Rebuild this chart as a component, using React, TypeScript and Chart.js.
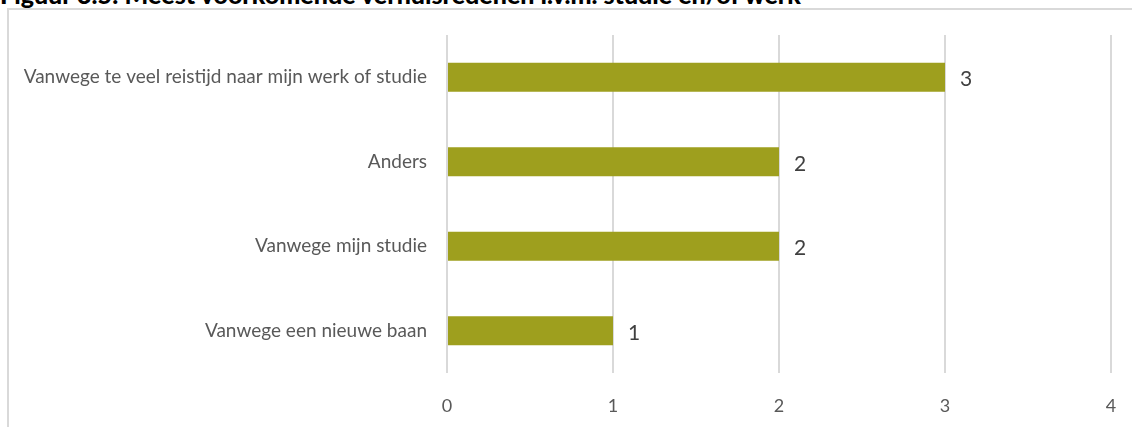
import React, { useEffect, useRef } from "react";
import { Chart, registerables } from "chart.js";

Chart.register(...registerables);

const title = "Figuur 3.5: Meest voorkomende verhuisredenen i.v.m. studie en/of werk";
const categories = [
  "Vanwege te veel reistijd naar mijn werk of studie",
  "Anders",
  "Vanwege mijn studie",
  "Vanwege een nieuwe baan",
];
const values = [3, 2, 2, 1];
const xMin = 0;
const xMax = 4;

const FONT = "Lato, 'Noto Sans', sans-serif";

const valueLabels = {
  id: "valueLabels",
  afterDatasetsDraw(chart: any) {
    const ctx = chart.ctx;
    const meta = chart.getDatasetMeta(0);
    ctx.save();
    ctx.fillStyle = "#404040";
    ctx.font = `21px ${FONT}`;
    ctx.textAlign = "left";
    ctx.textBaseline = "middle";
    meta.data.forEach((bar: any, i: number) => {
      ctx.fillText(String(chart.data.datasets[0].data[i]), bar.x + 15, bar.y + 2);
    });
    ctx.restore();
  },
};

export default function App() {
  const ref = useRef<HTMLCanvasElement>(null);
  useEffect(() => {
    if (!ref.current) return;
    const chart = new Chart(ref.current, {
      type: "bar",
      data: {
        labels: categories,
        datasets: [
          {
            data: values,
            backgroundColor: "#9E9F1E",
            borderWidth: 0,
            barPercentage: 0.69,
            categoryPercentage: 0.5,
          },
        ],
      },
      options: {
        indexAxis: "y",
        animation: false,
        responsive: false,
        maintainAspectRatio: false,
        layout: { padding: { top: 35, right: 21, left: 0, bottom: 0 } },
        plugins: { legend: { display: false }, tooltip: { enabled: false } },
        scales: {
          x: {
            min: xMin,
            max: xMax,
            border: { display: false },
            grid: {
              color: "#D9D9D9",
              lineWidth: 2,
              drawTicks: true,
              tickLength: 22,
              tickColor: "rgba(0,0,0,0)",
            },
            ticks: {
              stepSize: 1,
              padding: 0,
              color: "#595959",
              font: { family: FONT, size: 18 },
            },
            afterFit(scale: any) {
              scale.height = 54;
            },
          },
          y: {
            border: { display: false },
            grid: { display: false },
            ticks: {
              padding: 12,
              color: "#595959",
              font: { family: FONT, size: 19 },
            },
            afterFit(scale: any) {
              scale.width = 447;
            },
          },
        },
      },
      plugins: [valueLabels],
    });
    return () => chart.destroy();
  }, []);

  return (
    <div
      style={{
        position: "absolute",
        left: 0,
        top: 0,
        width: 1132,
        height: 427,
        overflow: "hidden",
        background: "#fff",
      }}
    >
      <div
        style={{
          position: "absolute",
          left: 0,
          top: -21,
          fontFamily: FONT,
          fontWeight: 900,
          fontSize: 25,
          whiteSpace: "nowrap",
          color: "#000",
        }}
      >
        {title}
      </div>
      <div
        style={{
          position: "absolute",
          left: 7,
          top: 8,
          width: 1200,
          height: 500,
          border: "2px solid #D9D9D9",
          boxSizing: "border-box",
        }}
      />
      <canvas
        ref={ref}
        width={1132}
        height={427}
        style={{ position: "absolute", left: 0, top: 0 }}
      />
    </div>
  );
}
